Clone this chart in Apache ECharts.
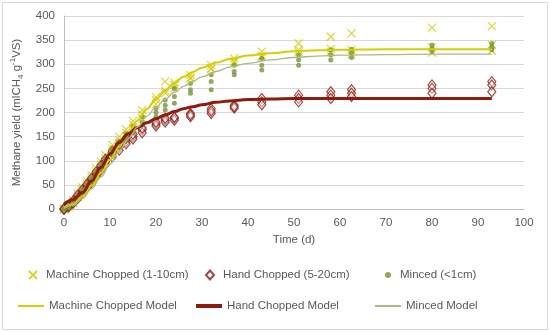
<!DOCTYPE html>
<html>
<head>
<meta charset="utf-8">
<script src="https://cdn.jsdelivr.net/npm/echarts@6/dist/echarts.min.js"></script>
<style>
html,body{margin:0;padding:0;background:#fff;}
#c{width:550px;height:332px;}
</style>
</head>
<body>
<div id="c"></div>
<script>
// Sampling times (d)
const times = [0, 1, 2, 3, 4, 5, 6, 7, 8, 9, 10.5, 12, 13.5, 15, 17, 20, 22, 24, 27.5, 32, 37, 43, 51, 58, 62.5, 80, 93];

// Replicate methane yields (mlCH4 g-1 VS), three per time
const machineChopped = [
  [0,0,0],[6,4,8],[15,12,18],[28,24,32],[40,36,45],[52,48,58],[65,60,70],[78,73,84],[92,86,98],[105,100,112],
  [125,118,133],[142,136,150],[158,152,165],[175,168,182],[196,188,205],[226,218,232],[245,240,264],[257,250,262],
  [278,272,270],[298,292,290],[312,306,304],[326,318,315],[343,330,325],[357,332,326],[364,320,330],[376,335,324],[379,340,328]
];
const handChopped = [
  [0,0,0],[6,4,8],[14,12,17],[25,22,29],[36,33,40],[48,44,52],[60,55,64],[72,67,77],[85,80,90],[98,92,103],
  [115,108,120],[128,122,134],[140,135,146],[150,145,155],[164,158,168],[176,172,180],[184,180,188],[188,184,190],
  [198,191,195],[208,198,203],[215,209,212],[229,222,216],[236,229,222],[243,236,229],[247,240,233],[257,250,240],[264,257,243]
];
const minced = [
  [0,0,0],[5,3,6],[12,10,15],[24,20,28],[36,32,40],[48,44,52],[60,56,65],[74,70,78],[88,82,92],[100,95,106],
  [118,112,125],[134,128,140],[150,142,156],[165,158,172],[191,174,180],[209,191,200],[226,205,215],[250,233,219],
  [260,247,240],[278,264,247],[298,285,278],[312,298,288],[319,309,298],[330,319,309],[331,323,314],[340,333,326],[343,336,330]
];

// Model curves
const modelTimes = [0,2,4,6,8,10,12,14,16,18,20,22,24,26,28,30,33,36,40,45,50,55,60,70,80,93];
const machineModel = [3,10,26,48,74,102,130,158,184,207,228,246,261,274,284,293,303,311,318,323,327,329,330,331,331,331];
const handModel = [10,19,34,58,86,114,138,156,169,179,187,195,202,208,212,216,221,224,227,228,229,229,229,229,229,229];
const mincedModel = [2,8,22,42,66,93,120,146,170,192,211,228,242,254,265,274,285,294,302,309,314,317,319,320,321,321];

const xTicks = {min: 0, max: 100, interval: 10};
const yTicks = {min: 0, max: 400, interval: 50};

const names = {
  mc: 'Machine Chopped (1-10cm)',
  hc: 'Hand Chopped (5-20cm)',
  mi: 'Minced (<1cm)',
  mcm: 'Machine Chopped Model',
  hcm: 'Hand Chopped Model',
  mim: 'Minced Model'
};

function reps(arr) {
  const out = [];
  arr.forEach((r, i) => r.forEach(v => out.push([times[i], v])));
  return out;
}
function pairs(ts, ys) { return ts.map((t, i) => [t, ys[i]]); }

const FONT = '"Liberation Sans", Arial, sans-serif';
const TXT = '#595959';
const crossPath = 'path://M0,0L10,10M10,0L0,10';

function legendItem(name, left, top, w, h, extra) {
  return Object.assign({
    data: [name], left: left, top: top, itemWidth: w, itemHeight: h,
    selectedMode: false, padding: 0,
    textStyle: {color: TXT, fontSize: 11.5, fontFamily: FONT}
  }, extra || {});
}
const padText = {textStyle: {color: TXT, fontSize: 11.5, fontFamily: FONT, padding: [0, 0, 0, 4]}};

const chart = echarts.init(document.getElementById('c'), null, {renderer: 'canvas'});
chart.setOption({
  animation: false,
  backgroundColor: '#fff',
  graphic: [{
    type: 'rect', shape: {x: 2.5, y: 2.5, width: 545, height: 327},
    style: {fill: 'none', stroke: '#d9d9d9', lineWidth: 1}, silent: true, z: -1
  }],
  grid: {left: 64, right: 26, top: 16, bottom: 123},
  xAxis: {
    type: 'value', min: xTicks.min, max: xTicks.max, interval: xTicks.interval,
    name: 'Time (d)', nameLocation: 'middle', nameGap: 25,
    nameTextStyle: {color: TXT, fontSize: 11.5, fontFamily: FONT},
    axisLine: {show: true, lineStyle: {color: '#bfbfbf'}},
    axisTick: {show: false},
    axisLabel: {color: TXT, fontSize: 11.5, fontFamily: FONT, margin: 8},
    splitLine: {show: false}
  },
  yAxis: {
    type: 'value', min: yTicks.min, max: yTicks.max, interval: yTicks.interval,
    name: '{m|Methane yield (mlCH}{sub|4}{m| g}{sup|-1}{m|VS)}',
    nameLocation: 'middle', nameGap: 31, nameRotate: 90,
    nameTextStyle: {
      color: TXT, fontSize: 11.5, fontFamily: FONT,
      rich: {
        m: {color: TXT, fontSize: 11.5, fontFamily: FONT, lineHeight: 16},
        sub: {color: TXT, fontSize: 8, fontFamily: FONT, verticalAlign: 'bottom', lineHeight: 16, padding: [4, 0, 0, 0]},
        sup: {color: TXT, fontSize: 8, fontFamily: FONT, verticalAlign: 'top', lineHeight: 16, padding: [0, 0, 4, 0]}
      }
    },
    axisLine: {show: true, lineStyle: {color: '#bfbfbf'}},
    axisTick: {show: false},
    axisLabel: {color: TXT, fontSize: 11.5, fontFamily: FONT, margin: 9},
    splitLine: {show: true, lineStyle: {color: '#d9d9d9'}}
  },
  legend: [
    legendItem(names.mc, 28, 269, 8, 8, padText),
    legendItem(names.hc, 205, 269, 8, 9, padText),
    legendItem(names.mi, 385, 269, 6, 6, padText),
    legendItem(names.mcm, 18, 300, 26, 2, {icon: 'rect'}),
    legendItem(names.hcm, 196, 300, 26, 4, {icon: 'rect'}),
    legendItem(names.mim, 375, 300, 26, 2, {icon: 'rect'})
  ],
  series: [
    {
      name: names.mc, type: 'scatter', data: reps(machineChopped),
      symbol: crossPath, symbolSize: 8,
      itemStyle: {color: 'rgba(0,0,0,0)', borderColor: '#d8c600', borderWidth: 1.1}
    },
    {
      name: names.hc, type: 'scatter', data: reps(handChopped),
      symbol: 'diamond', symbolSize: [8, 10],
      itemStyle: {color: 'rgba(255,255,255,0.5)', borderColor: '#8a1a12', borderWidth: 1.2}
    },
    {
      name: names.mi, type: 'scatter', data: reps(minced),
      symbol: 'circle', symbolSize: 5,
      itemStyle: {color: '#77933c'}
    },
    {
      name: names.mcm, type: 'line', data: pairs(modelTimes, machineModel),
      symbol: 'none', smooth: 0.4, smoothMonotone: 'x',
      lineStyle: {color: '#d4d000', width: 2}, itemStyle: {color: '#d4d000'}
    },
    {
      name: names.hcm, type: 'line', data: pairs(modelTimes, handModel),
      symbol: 'none', smooth: 0.4, smoothMonotone: 'x',
      lineStyle: {color: '#8e1c0e', width: 3}, itemStyle: {color: '#8e1c0e'}
    },
    {
      name: names.mim, type: 'line', data: pairs(modelTimes, mincedModel),
      symbol: 'none', smooth: 0.4, smoothMonotone: 'x',
      lineStyle: {color: '#a9bc82', width: 1.3}, itemStyle: {color: '#a9bc82'}
    }
  ]
});
</script>
</body>
</html>
